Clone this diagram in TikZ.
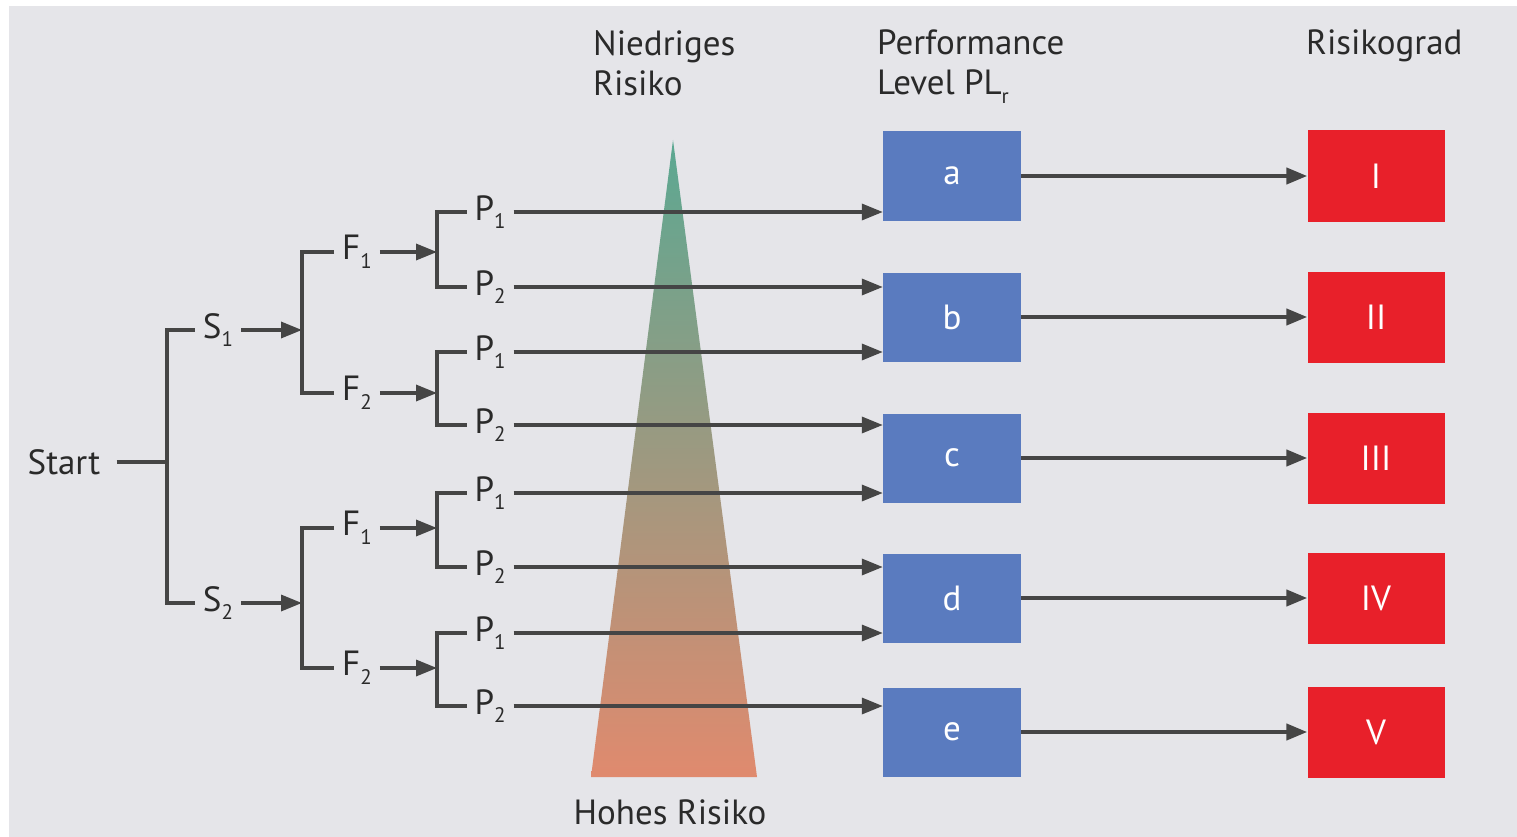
\documentclass[tikz,border=0pt]{standalone}
\usepackage{fontspec}
\setmainfont{PT Sans}
\usetikzlibrary{arrows.meta,calc}
\definecolor{bg}{HTML}{E5E5E9}
\definecolor{ln}{HTML}{454545}
\definecolor{txt}{HTML}{2A2A2A}
\definecolor{pl}{HTML}{5A7BBF}
\definecolor{rg}{HTML}{E8202A}
\definecolor{tealc}{HTML}{5BA892}
\definecolor{midc}{HTML}{A38A74}
\definecolor{salm}{HTML}{E08A6E}
\newcommand\sbs[1]{\raisebox{-0.5ex}{\fontsize{21}{21}\selectfont #1}}
\begin{document}
\begin{tikzpicture}[x=1pt,y=-1pt,
  lbl/.style={inner sep=0pt, font=\fontsize{35}{40}\selectfont, text=txt},
  tl/.style={lbl, outer sep=8pt},
  conn/.style={draw=ln, line width=3.4pt},
  arr/.style={conn, -{Triangle[length=21pt,width=16pt]}},
  bigarr/.style={arr, line width=4.2pt},
  plbox/.style={fill=pl, minimum width=138pt, minimum height=89pt, inner sep=0pt, text=white, font=\fontsize{35}{40}\selectfont},
  rgbox/.style={fill=rg, minimum width=137pt, minimum height=91pt, inner sep=0pt, text=white, font=\fontsize{35}{40}\selectfont}]
\useasboundingbox (0,0) rectangle (1517,837);
\fill[white] (0,0) rectangle (1517,837);
\fill[bg] (9,6) rectangle (1517,837);

% risk triangle
\shade[top color=tealc, middle color=midc, bottom color=salm] (673,140) -- (757,777) -- (591,777) -- cycle;

% headings
\node[lbl, anchor=north west, align=left] (low) at (593,30) {Niedriges\\Risiko};
\node[lbl, anchor=north west, align=left] (plr) at (877,30) {Performance\\Level PL\sbs{r}};
\node[lbl, anchor=north west] (rgr) at (1306,30) {Risikograd};
\node[lbl] (high) at (670,812) {Hohes Risiko};

% performance level boxes
\node[plbox] (a) at (952,176) {a};
\node[plbox] (b) at (952,317) {b};
\node[plbox] (c) at (952,458) {c};
\node[plbox] (d) at (952,598) {d};
\node[plbox] (e) at (952,732) {e};

% risk grade boxes
\node[rgbox] (r1) at (1376,176) {I};
\node[rgbox] (r2) at (1376,317) {II};
\node[rgbox] (r3) at (1376,458) {III};
\node[rgbox] (r4) at (1376,598) {IV};
\node[rgbox] (r5) at (1376,732) {V};

\foreach \i/\j in {a/r1,b/r2,c/r3,d/r4,e/r5}
  \draw[bigarr] (\i.east) -- (\j.west);

% tree
\node[lbl] (start) at (64,462) {Start};
\coordinate (js) at (167,462);
\draw[conn] ([xshift=16pt]start.east) -- (js);

\node[tl] (s1) at (218,330) {S\sbs{1}};
\node[tl] (s2) at (218,603) {S\sbs{2}};
\draw[conn] (s1.west) -| (js) |- (s2.west);

\coordinate (jf1) at (302,330);
\coordinate (jf2) at (302,603);
\draw[arr] (s1.east) -- (jf1);
\draw[arr] (s2.east) -- (jf2);

\node[tl] (f11) at (357,252) {F\sbs{1}};
\node[tl] (f12) at (357,393) {F\sbs{2}};
\node[tl] (f21) at (357,528) {F\sbs{1}};
\node[tl] (f22) at (357,668) {F\sbs{2}};
\draw[conn] (f11.west) -| (jf1) |- (f12.west);
\draw[conn] (f21.west) -| (jf2) |- (f22.west);

\coordinate (jp1) at (437,252);
\coordinate (jp2) at (437,393);
\coordinate (jp3) at (437,528);
\coordinate (jp4) at (437,668);
\draw[arr] (f11.east) -- (jp1);
\draw[arr] (f12.east) -- (jp2);
\draw[arr] (f21.east) -- (jp3);
\draw[arr] (f22.east) -- (jp4);

\node[tl] (p1) at (490,212) {P\sbs{1}};
\node[tl] (p2) at (490,287) {P\sbs{2}};
\node[tl] (p3) at (490,352) {P\sbs{1}};
\node[tl] (p4) at (490,425) {P\sbs{2}};
\node[tl] (p5) at (490,493) {P\sbs{1}};
\node[tl] (p6) at (490,567) {P\sbs{2}};
\node[tl] (p7) at (490,633) {P\sbs{1}};
\node[tl] (p8) at (490,706) {P\sbs{2}};
\draw[conn] (p1.west) -| (jp1) |- (p2.west);
\draw[conn] (p3.west) -| (jp2) |- (p4.west);
\draw[conn] (p5.west) -| (jp3) |- (p6.west);
\draw[conn] (p7.west) -| (jp4) |- (p8.west);

\draw[arr] (p1.east) -- (p1.east -| a.west);
\draw[arr] (p2.east) -- (p2.east -| b.west);
\draw[arr] (p3.east) -- (p3.east -| b.west);
\draw[arr] (p4.east) -- (p4.east -| c.west);
\draw[arr] (p5.east) -- (p5.east -| c.west);
\draw[arr] (p6.east) -- (p6.east -| d.west);
\draw[arr] (p7.east) -- (p7.east -| d.west);
\draw[arr] (p8.east) -- (p8.east -| e.west);
\end{tikzpicture}
\end{document}
